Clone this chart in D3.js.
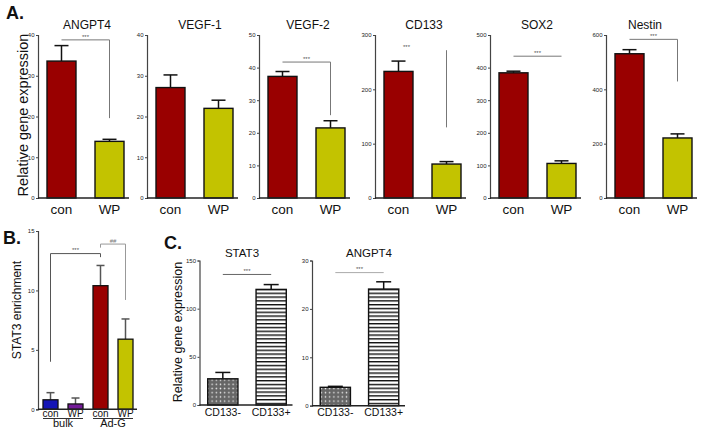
<!DOCTYPE html>
<html><head><meta charset="utf-8">
<script src="https://cdn.jsdelivr.net/npm/d3@7"></script>
<style>
body{margin:0;background:#fff;}
svg{display:block;font-family:"Liberation Sans",Arial,sans-serif;}
</style></head>
<body><svg id="c" width="703" height="436"></svg>
<script>
// ---- Panel A data ----
const groupsA = ["con", "WP"];
const titlesA = ["ANGPT4", "VEGF-1", "VEGF-2", "CD133", "SOX2", "Nestin"];
const meansA = [[33.6, 13.9], [27.1, 22.0], [37.3, 21.5], [233, 62.5], [384, 106], [531, 221]];
const errsA  = [[3.8, 0.5], [3.1, 2.0], [1.5, 2.2], [19, 4.5], [5, 8], [15, 15]];
const maxA   = [40, 40, 50, 300, 500, 600];
const stepA  = [10, 10, 10, 100, 100, 200];
// significance annotations (data units): [barLevel, verticalBottom or null, hasHorizontal]
const sigA = [[38.8, 19.6, true], null, [41.7, 25.4, true], [272, 130, false], [435, null, true], [584, 429, true]];

// ---- Panel B data ----
const groupsB = ["con", "WP", "con", "WP"];
const setsB = ["bulk", "Ad-G"];
const meansB = [0.8, 0.45, 10.4, 5.9];
const errsB = [0.6, 0.5, 1.7, 1.7];
const ticksB = [0, 5, 10, 15];

// ---- Panel C data ----
const groupsC = ["CD133-", "CD133+"];
const titlesC = ["STAT3", "ANGPT4"];
const meansC = [[27.2, 120], [3.8, 24.1]];
const errsC = [[6.6, 5], [0.2, 1.5]];
const maxC = [150, 30];
const stepC = [50, 10];
const sigC = [135.5, 27.5];

const svg = d3.select("#c");
const FONT = '"Liberation Sans",Arial,sans-serif';
const colA = ["#990000", "#c3c300"];
const colB = ["#1515b5", "#741a98", "#990000", "#c3c300"];

const defs = svg.append("defs");
const dots = defs.append("pattern").attr("id", "dots").attr("patternUnits", "userSpaceOnUse")
  .attr("width", 4.2).attr("height", 4.2);
dots.append("rect").attr("width", 4.2).attr("height", 4.2).attr("fill", "#666");
dots.append("circle").attr("cx", 2.1).attr("cy", 2.1).attr("r", 0.75).attr("fill", "#eee");
const stripes = defs.append("pattern").attr("id", "stripes").attr("patternUnits", "userSpaceOnUse")
  .attr("width", 8).attr("height", 3.8);
stripes.append("rect").attr("width", 8).attr("height", 3.8).attr("fill", "#fff");
stripes.append("rect").attr("y", 0).attr("width", 8).attr("height", 1.4).attr("fill", "#111");

function yAxis(g, y, ticks, x0) {
  const ax = d3.axisLeft(y).tickValues(ticks).tickSize(2).tickPadding(1.5).tickFormat(d3.format("d"));
  const a = g.append("g").attr("transform", `translate(${x0},0)`).call(ax);
  a.select(".domain").attr("stroke", "#444").attr("stroke-width", 1.2);
  a.selectAll(".tick line").attr("stroke", "#444");
  a.selectAll(".tick text").attr("font-size", 6).attr("fill", "#222").attr("font-family", FONT);
}
function xLine(g, x0, x1, yb) {
  g.append("line").attr("x1", x0).attr("x2", x1).attr("y1", yb).attr("y2", yb)
    .attr("stroke", "#222").attr("stroke-width", 1.4);
}
function errBar(g, cx, yTop, yVal, w, col) {
  g.append("line").attr("x1", cx).attr("x2", cx).attr("y1", yVal).attr("y2", yTop)
    .attr("stroke", col).attr("stroke-width", 1.5);
  g.append("line").attr("x1", cx - w / 2).attr("x2", cx + w / 2).attr("y1", yTop).attr("y2", yTop)
    .attr("stroke", col).attr("stroke-width", 1.5);
}
function stars(g, x, y, txt, col) {
  g.append("text").attr("x", x).attr("y", y).attr("text-anchor", "middle")
    .attr("font-size", 6).attr("fill", col || "#555").text(txt);
}
function seg(g, x1, y1, x2, y2, col) {
  g.append("line").attr("x1", x1).attr("y1", y1).attr("x2", x2).attr("y2", y2)
    .attr("stroke", col || "#777").attr("stroke-width", 1);
}

// ---------- Panel A ----------
const x0A = [38, 147, 259, 375, 490, 606];
const titleXA = [87, 200, 308, 424, 537, 645];
const gA = svg.append("g");
titlesA.forEach((t, i) => {
  const x0 = x0A[i];
  const x = d3.scaleBand().domain(groupsA).range([x0, x0 + 95]).paddingInner(0.396).paddingOuter(0.1875);
  const y = d3.scaleLinear().domain([0, maxA[i]]).range([198, 35]);
  const ticks = d3.range(0, maxA[i] + 1e-9, stepA[i]);
  yAxis(gA, y, ticks, x0);
  groupsA.forEach((gname, j) => {
    const cx = x(gname) + x.bandwidth() / 2;
    errBar(gA, cx, y(meansA[i][j] + errsA[i][j]), y(meansA[i][j]), 14, "#111");
    gA.append("rect").attr("x", x(gname)).attr("y", y(meansA[i][j]))
      .attr("width", x.bandwidth()).attr("height", y(0) - y(meansA[i][j]))
      .attr("fill", colA[j]).attr("stroke", "#111").attr("stroke-width", 1.4);
    gA.append("text").attr("x", cx).attr("y", 214).attr("text-anchor", "middle")
      .attr("font-size", 13.5).attr("fill", "#111").text(gname);
  });
  xLine(gA, x0, x0 + 91, 198);
  gA.append("text").attr("x", titleXA[i]).attr("y", 29).attr("text-anchor", "middle")
    .attr("font-size", 12).attr("fill", "#111").text(t);
  const s = sigA[i];
  if (s) {
    const c0 = x("con") + x.bandwidth() / 2, c1 = x("WP") + x.bandwidth() / 2;
    const yl = y(s[0]);
    if (s[2]) seg(gA, c0, yl, c1, yl, "#777");
    if (s[1] !== null) seg(gA, c1, yl, c1, y(s[1]), "#777");
    stars(gA, s[2] ? (c0 + c1) / 2 : c0 + 8, yl - 1, "***");
  }
});
gA.append("text").attr("transform", "translate(28,115) rotate(-90)").attr("text-anchor", "middle")
  .attr("font-size", 14.5).attr("fill", "#111").text("Relative gene expression");
svg.append("text").attr("x", 6).attr("y", 19).attr("font-size", 18).attr("font-weight", "bold")
  .attr("fill", "#111").text("A.");

// ---------- Panel B ----------
const gB = svg.append("g");
{
  const x0 = 38;
  const idx = d3.range(groupsB.length);
  const x = d3.scaleBand().domain(idx).range([x0, x0 + 100]).paddingInner(0.4).paddingOuter(0.2);
  const y = d3.scaleLinear().domain([0, 15]).range([409.3, 231]);
  yAxis(gB, y, ticksB, x0);
  idx.forEach(k => {
    const cx = x(k) + x.bandwidth() / 2;
    errBar(gB, cx, y(meansB[k] + errsB[k]), y(meansB[k]), 8, "#555");
    gB.append("rect").attr("x", x(k)).attr("y", y(meansB[k]))
      .attr("width", x.bandwidth()).attr("height", y(0) - y(meansB[k]))
      .attr("fill", colB[k]).attr("stroke", "#111").attr("stroke-width", 1.3);
    gB.append("text").attr("x", cx).attr("y", 417).attr("text-anchor", "middle")
      .attr("font-size", 10).attr("fill", "#111").text(groupsB[k]);
  });
  xLine(gB, x0, x0 + 99, 409.3);
  setsB.forEach((s, j) => {
    const a = x(2 * j), b = x(2 * j + 1) + x.bandwidth();
    seg(gB, a, 418.5, b, 418.5, "#333");
    gB.append("text").attr("x", (a + b) / 2).attr("y", 427).attr("text-anchor", "middle")
      .attr("font-size", 11).attr("fill", "#111").text(s);
  });
  const c = idx.map(k => x(k) + x.bandwidth() / 2);
  // *** bracket bulk-con vs Ad-G-con
  seg(gB, c[0], y(13.1), c[2], y(13.1), "#555");
  seg(gB, c[0], y(13.1), c[0], y(4.0), "#555");
  seg(gB, c[2], y(13.1), c[2], y(12.8), "#555");
  stars(gB, (c[0] + c[2]) / 2, y(13.1) - 1.5, "***");
  // ## bracket
  seg(gB, c[2], y(13.9), c[3], y(13.9), "#999");
  seg(gB, c[2], y(13.9), c[2], y(13.6), "#999");
  seg(gB, c[3], y(13.9), c[3], y(9.2), "#999");
  stars(gB, (c[2] + c[3]) / 2, y(13.9) - 1.5, "##", "#777");
}
gB.append("text").attr("transform", "translate(21,310) rotate(-90)").attr("text-anchor", "middle")
  .attr("font-size", 12).attr("fill", "#111").text("STAT3 enrichment");
svg.append("text").attr("x", 3).attr("y", 244).attr("font-size", 18).attr("font-weight", "bold")
  .attr("fill", "#111").text("B.");

// ---------- Panel C ----------
const gC = svg.append("g");
const x0C = [199.5, 312];
const y0C = [405, 405.7];
const titleXC = [242, 369];
titlesC.forEach((t, i) => {
  const x0 = x0C[i];
  const x = d3.scaleBand().domain(groupsC).range([x0, x0 + 95]).paddingInner(0.375).paddingOuter(0.17);
  const y = d3.scaleLinear().domain([0, maxC[i]]).range([y0C[i], 260.5]);
  yAxis(gC, y, d3.range(0, maxC[i] + 1e-9, stepC[i]), x0);
  groupsC.forEach((gname, j) => {
    const cx = x(gname) + x.bandwidth() / 2;
    errBar(gC, cx, y(meansC[i][j] + errsC[i][j]), y(meansC[i][j]), 15, "#111");
    gC.append("rect").attr("x", x(gname)).attr("y", y(meansC[i][j]))
      .attr("width", x.bandwidth()).attr("height", y(0) - y(meansC[i][j]))
      .attr("fill", j === 0 ? "url(#dots)" : "url(#stripes)").attr("stroke", "#111").attr("stroke-width", 1.4);
    gC.append("text").attr("x", cx).attr("y", 416).attr("text-anchor", "middle")
      .attr("font-size", 10.5).attr("fill", "#111").text(gname);
  });
  xLine(gC, x0, x0 + 93, y0C[i]);
  gC.append("text").attr("x", titleXC[i]).attr("y", 257).attr("text-anchor", "middle")
    .attr("font-size", 11.5).attr("fill", "#111").text(t);
  const c0 = x(groupsC[0]) + x.bandwidth() / 2, c1 = x(groupsC[1]) + x.bandwidth() / 2;
  seg(gC, c0, y(sigC[i]), c1, y(sigC[i]), i === 0 ? "#666" : "#aaa");
  stars(gC, (c0 + c1) / 2, y(sigC[i]) - 1.5, "***");
});
gC.append("text").attr("transform", "translate(182,332) rotate(-90)").attr("text-anchor", "middle")
  .attr("font-size", 12.5).attr("fill", "#111").text("Relative gene expression");
svg.append("text").attr("x", 164).attr("y", 249).attr("font-size", 18).attr("font-weight", "bold")
  .attr("fill", "#111").text("C.");
</script></body></html>
